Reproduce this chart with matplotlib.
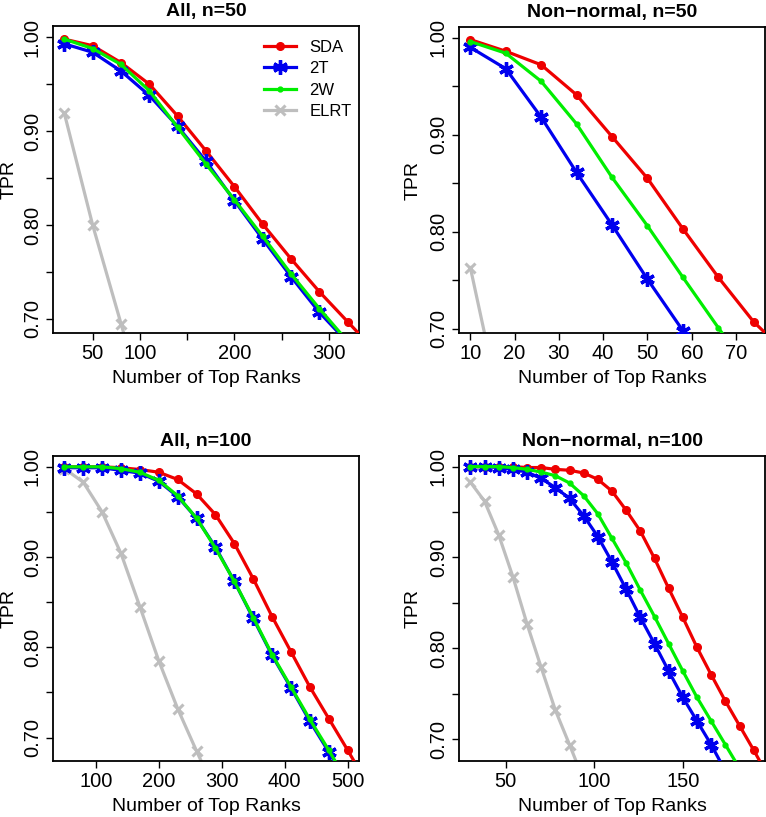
import matplotlib
matplotlib.use("Agg")
import matplotlib.pyplot as plt
import numpy as np

plt.rcParams['font.family'] = ['Liberation Sans', 'DejaVu Sans']

# ---------------- data ----------------
methods = ["SDA", "2T", "2W", "ELRT"]
colors = {"SDA": "#ee0000", "2T": "#0000ee", "2W": "#00ee00", "ELRT": "#bebebe"}

# Panel 1: All, n=50
p1_x = [20, 50, 80, 110, 140, 170, 200, 230, 260, 290, 320, 350]
p1_sda = [0.998, 0.991, 0.973, 0.950, 0.916, 0.879, 0.841, 0.801, 0.764, 0.729, 0.697, 0.665]
p1_2t = [0.993, 0.984, 0.964, 0.938, 0.905, 0.868, 0.826, 0.785, 0.745, 0.707, 0.675, 0.645]
p1_2w = [0.998, 0.988, 0.971, 0.943, 0.904, 0.865, 0.827, 0.788, 0.748, 0.711, 0.676, 0.645]
p1_elrt_x = [20, 50, 80, 110]
p1_elrt = [0.919, 0.800, 0.695, 0.590]

# Panel 2: Non-normal, n=50
p2_x = [10, 18, 26, 34, 42, 50, 58, 66, 74, 82]
p2_sda = [0.998, 0.986, 0.972, 0.941, 0.898, 0.855, 0.803, 0.753, 0.707, 0.672]
p2_2t = [0.990, 0.968, 0.918, 0.861, 0.807, 0.751, 0.698, 0.645, 0.600, 0.560]
p2_2w = [0.996, 0.984, 0.955, 0.911, 0.856, 0.806, 0.753, 0.701, 0.650, 0.610]
p2_elrt_x = [10, 18]
p2_elrt = [0.763, 0.594]

# Panel 3: All, n=100
p3_x = [50, 80, 110, 140, 170, 200, 230, 260, 290, 320, 350, 380, 410, 440, 470, 500, 530]
p3_sda = [1.000, 1.000, 1.000, 0.999, 0.997, 0.994, 0.986, 0.970, 0.947, 0.915, 0.876,
          0.834, 0.795, 0.756, 0.721, 0.686, 0.650]
p3_2t = [0.999, 0.999, 0.999, 0.996, 0.993, 0.984, 0.967, 0.943, 0.911, 0.873, 0.832,
         0.791, 0.755, 0.718, 0.684, 0.650, 0.615]
p3_2w = [1.000, 1.000, 1.000, 0.998, 0.994, 0.985, 0.968, 0.943, 0.910, 0.873, 0.833,
         0.792, 0.756, 0.720, 0.686, 0.650, 0.615]
p3_elrt_x = [50, 80, 110, 140, 170, 200, 230, 260, 290]
p3_elrt = [0.998, 0.983, 0.950, 0.904, 0.845, 0.785, 0.732, 0.685, 0.640]

# Panel 4: Non-normal, n=100
p4_x = [30, 38, 46, 54, 62, 70, 78, 86, 94, 102, 110, 118, 126, 134, 142, 150,
        158, 166, 174, 182, 190, 198]
p4_sda = [1.000, 1.000, 1.000, 1.000, 0.999, 0.999, 0.997, 0.996, 0.993, 0.986, 0.973,
          0.952, 0.929, 0.899, 0.866, 0.834, 0.801, 0.771, 0.742, 0.715, 0.688, 0.660]
p4_2t = [1.000, 1.000, 0.999, 0.997, 0.994, 0.987, 0.977, 0.965, 0.946, 0.923, 0.895,
         0.865, 0.834, 0.805, 0.775, 0.746, 0.720, 0.694, 0.665, 0.640, 0.615, 0.590]
p4_2w = [1.000, 1.000, 1.000, 0.999, 0.997, 0.994, 0.990, 0.982, 0.968, 0.948, 0.921,
         0.894, 0.864, 0.835, 0.805, 0.775, 0.746, 0.720, 0.694, 0.668, 0.640, 0.615]
p4_elrt_x = [30, 38, 46, 54, 62, 70, 78, 86, 94]
p4_elrt = [0.983, 0.962, 0.925, 0.879, 0.827, 0.779, 0.732, 0.694, 0.655]

titles = ["All, n=50", "Non\u2212normal, n=50", "All, n=100", "Non\u2212normal, n=100"]
xlabel = "Number of Top Ranks"
ylabel = "TPR"

# ---------------- layout ----------------
W, H = 766, 817
fig = plt.figure(figsize=(W / 100, H / 100), dpi=100)

def box(x0, y0, x1, y1):
    return [x0 / W, 1 - y1 / H, (x1 - x0) / W, (y1 - y0) / H]

axes = [
    fig.add_axes(box(53, 26, 359, 333)),
    fig.add_axes(box(459, 27, 765, 333)),
    fig.add_axes(box(53, 456, 359, 761)),
    fig.add_axes(box(459, 456, 765, 761)),
]

panels = [
    (p1_x, p1_sda, p1_2t, p1_2w, p1_elrt_x, p1_elrt, (8, 332), (0.685, 1.012),
     [50, 100, 150, 200, 250, 300], ["50", "100", "", "200", "", "300"]),
    (p2_x, p2_sda, p2_2t, p2_2w, p2_elrt_x, p2_elrt, (7.44, 76.56), (0.6955, 1.011),
     [10, 20, 30, 40, 50, 60, 70], ["10", "20", "30", "40", "50", "60", "70"]),
    (p3_x, p3_sda, p3_2t, p3_2w, p3_elrt_x, p3_elrt, (32, 518), (0.674, 1.012),
     [100, 200, 300, 400, 500], ["100", "200", "300", "400", "500"]),
    (p4_x, p4_sda, p4_2t, p4_2w, p4_elrt_x, p4_elrt, (23.6, 196.4), (0.676, 1.0117),
     [50, 100, 150], ["50", "100", "150"]),
]

yticks = [0.70, 0.75, 0.80, 0.85, 0.90, 0.95, 1.00]
ylabels = ["0.70", "", "0.80", "", "0.90", "", "1.00"]

FS = 14.0
for i, (ax, pan) in enumerate(zip(axes, panels)):
    x, sda, t2, w2, ex, el, xl, yl, xt, xtl = pan
    lw = 2.3
    ax.plot(x, sda, color=colors["SDA"], lw=lw, marker='o', ms=5.5, label="SDA",
            zorder=3)
    ax.plot(x, t2, color=colors["2T"], lw=lw, marker=(6, 2, 0), ms=10.5, mew=2.4,
            label="2T", zorder=4)
    ax.plot(x, w2, color=colors["2W"], lw=lw, marker='o', ms=3.5, label="2W", zorder=5)
    ax.plot(ex, el, color=colors["ELRT"], lw=lw, marker='x', ms=7, mew=2.2,
            label="ELRT", zorder=2)
    ax.set_xlim(*xl)
    ax.set_ylim(*yl)
    ax.set_xticks(xt)
    ax.set_xticklabels(xtl)
    ax.set_yticks(yticks)
    ax.set_yticklabels(ylabels, rotation=90, va='center')
    ax.tick_params(direction='out', length=5, width=1.0, labelsize=14.5, pad=3,
                   colors='black')
    for s in ax.spines.values():
        s.set_linewidth(1.3)
    ax.set_title(titles[i], fontsize=FS, fontweight='bold', pad=7)
    ax.set_xlabel(xlabel, fontsize=FS, labelpad=5)
    ax.set_ylabel(ylabel, fontsize=FS, labelpad=3.5 if i % 2 == 0 else 5)
    if i == 0:
        ax.legend(loc='upper right', frameon=False, fontsize=12, handlelength=1.9,
                  handletextpad=0.8, labelspacing=0.38, borderaxespad=0.2,
                  bbox_to_anchor=(1.008, 0.987))

fig.savefig("out.png", dpi=100)
